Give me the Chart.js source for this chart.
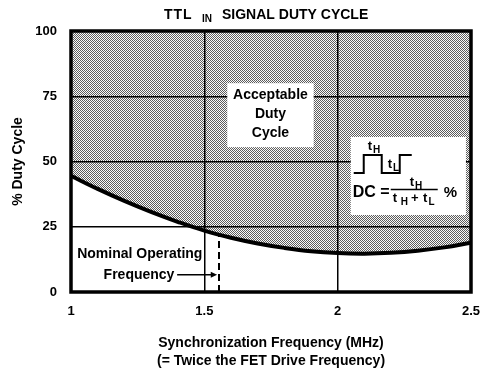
<!DOCTYPE html>
<html>
<head>
<meta charset="utf-8">
<script src="https://cdn.jsdelivr.net/npm/chart.js@4.4.1/dist/chart.umd.min.js"></script>
<style>
  html, body { margin: 0; padding: 0; background: #fff; }
</style>
</head>
<body>
<canvas id="duty-cycle" width="488" height="370"></canvas>
<script>
// minimum acceptable duty cycle (%) vs. sync frequency (MHz)
const freqMHz = [1.0, 1.1, 1.2, 1.3, 1.4, 1.5, 1.6, 1.7, 1.8, 1.9, 2.0, 2.1, 2.2, 2.3, 2.4, 2.5];
const minDuty = [44.5, 39.5, 34.9, 30.7, 26.9, 23.5, 20.8, 18.6, 16.9, 15.6, 14.9, 14.7, 15.0, 15.8, 17.1, 18.9];

// nominal operating frequency marker
const nominalX = [1.555, 1.555];
const nominalY = [0, 32];

const xTicks = [1, 1.5, 2, 2.5];
const yTicks = [0, 25, 50, 75, 100];

const FONT = '"Liberation Sans", Arial, sans-serif';

function stipple() {
  const c = document.createElement('canvas');
  c.width = 2;
  c.height = 2;
  const g = c.getContext('2d');
  g.fillStyle = '#fafafa';
  g.fillRect(0, 0, 2, 2);
  g.fillStyle = '#5c5c5c';
  g.fillRect(0, 0, 1, 1);
  g.fillRect(1, 1, 1, 1);
  return g.createPattern(c, 'repeat');
}

const ctx = document.getElementById('duty-cycle');

const decorations = {
  id: 'decorations',
  afterDraw(chart) {
    const c = chart.ctx;
    const area = chart.chartArea;
    const xs = chart.scales.x;
    const ys = chart.scales.y;
    const px = v => xs.getPixelForValue(v);
    const py = v => ys.getPixelForValue(v);

    c.save();
    c.fillStyle = '#000';
    c.strokeStyle = '#000';

    // heavy frame round the plot
    c.lineWidth = 3.5;
    c.strokeRect(area.left, area.top, area.right - area.left, area.bottom - area.top);

    // "Acceptable Duty Cycle" box
    c.fillStyle = '#fff';
    c.fillRect(px(1.586), py(80), px(1.91) - px(1.586), py(55.5) - py(80));
    c.fillStyle = '#000';
    c.font = 'bold 14px ' + FONT;
    c.textAlign = 'center';
    c.textBaseline = 'middle';
    const cx = px(1.748);
    c.fillText('Acceptable', cx, py(75.3));
    c.fillText('Duty', cx, py(68.0));
    c.fillText('Cycle', cx, py(60.8));

    // duty cycle formula box
    const bx = px(2.049), by = py(59.4);
    c.fillStyle = '#fff';
    c.fillRect(bx, by, px(2.481) - bx, py(29.5) - by);
    c.fillStyle = '#000';

    // pulse waveform
    c.lineWidth = 2;
    c.beginPath();
    c.moveTo(bx + 3, by + 36);
    c.lineTo(bx + 13, by + 36);
    c.lineTo(bx + 13, by + 18);
    c.lineTo(bx + 31, by + 18);
    c.lineTo(bx + 31, by + 36);
    c.lineTo(bx + 49, by + 36);
    c.lineTo(bx + 49, by + 18);
    c.lineTo(bx + 61, by + 18);
    c.stroke();

    function sub(main, s, x, y, big, small) {
      c.textAlign = 'left';
      c.textBaseline = 'alphabetic';
      c.font = 'bold ' + big + 'px ' + FONT;
      c.fillText(main, x, y);
      const w = c.measureText(main).width;
      c.font = 'bold ' + small + 'px ' + FONT;
      c.fillText(s, x + w + 1, y + 3);
      return w + 1 + c.measureText(s).width;
    }

    sub('t', 'H', bx + 17, by + 13, 13, 10);
    sub('t', 'L', bx + 37, by + 31, 13, 10);

    c.font = 'bold 16px ' + FONT;
    c.textAlign = 'left';
    c.textBaseline = 'alphabetic';
    c.fillText('DC =', bx + 2, by + 60);
    sub('t', 'H', bx + 59, by + 49, 13, 10);
    c.lineWidth = 1.5;
    c.beginPath();
    c.moveTo(bx + 40, by + 52.5);
    c.lineTo(bx + 87, by + 52.5);
    c.stroke();
    let w = sub('t', ' H', bx + 42, by + 65, 13, 10);
    c.font = 'bold 13px ' + FONT;
    c.fillText('+', bx + 42 + w + 3, by + 65);
    sub('t', 'L', bx + 42 + w + 15, by + 65, 13, 10);
    c.font = 'bold 15px ' + FONT;
    c.fillText('%', bx + 93, by + 60);

    // nominal operating frequency label and arrow
    c.font = 'bold 14px ' + FONT;
    c.textAlign = 'center';
    c.textBaseline = 'middle';
    c.fillText('Nominal Operating', px(1.258), py(14.6));
    c.fillText('Frequency', px(1.255), py(6.6));
    const ay = py(6.6);
    c.lineWidth = 1.5;
    c.beginPath();
    c.moveTo(px(1.398), ay);
    c.lineTo(px(1.53), ay);
    c.stroke();
    c.beginPath();
    c.moveTo(px(1.548), ay);
    c.lineTo(px(1.524), ay - 3);
    c.lineTo(px(1.524), ay + 3);
    c.closePath();
    c.fill();

    // chart title with subscript
    c.textAlign = 'left';
    c.textBaseline = 'alphabetic';
    c.font = 'bold 14px ' + FONT;
    c.letterSpacing = '1px';
    c.fillText('TTL', 164, 19);
    c.letterSpacing = '0px';
    c.font = 'bold 10px ' + FONT;
    c.fillText('IN', 202, 22);
    c.font = 'bold 14px ' + FONT;
    c.fillText('SIGNAL DUTY CYCLE', 222, 19);

    // axis titles
    c.textAlign = 'center';
    c.textBaseline = 'middle';
    c.font = 'bold 14px ' + FONT;
    const midX = (area.left + area.right) / 2;
    c.fillText('Synchronization Frequency (MHz)', midX, 343);
    c.fillText('(= Twice the FET Drive Frequency)', midX, 361);

    c.translate(18, (area.top + area.bottom) / 2);
    c.rotate(-Math.PI / 2);
    c.fillText('% Duty Cycle', 0, 0);
    c.restore();
  }
};

const tickFont = { family: FONT, size: 13, weight: 'bold' };
const gridStyle = { color: '#000', lineWidth: 1.5, drawTicks: false, z: 1 };

new Chart(ctx, {
  type: 'line',
  data: {
    datasets: [{
      label: 'Minimum duty cycle',
      data: freqMHz.map((f, i) => ({ x: f, y: minDuty[i] })),
      borderColor: '#000',
      borderWidth: 4,
      backgroundColor: stipple(),
      fill: 'end',
      tension: 0.4,
      pointRadius: 0
    }, {
      label: 'Nominal frequency',
      data: nominalX.map((f, i) => ({ x: f, y: nominalY[i] })),
      borderColor: '#000',
      borderWidth: 2,
      borderDash: [7, 4],
      fill: false,
      pointRadius: 0
    }]
  },
  plugins: [decorations],
  options: {
    responsive: false,
    animation: false,
    layout: {
      padding: { top: 31, right: 17, left: 0, bottom: 0 }
    },
    plugins: {
      legend: { display: false },
      tooltip: { enabled: false }
    },
    scales: {
      x: {
        type: 'linear',
        min: 1,
        max: 2.5,
        afterBuildTicks: s => { s.ticks = xTicks.map(v => ({ value: v })); },
        afterFit: s => {
          s.height = 78;
          s.paddingLeft = 0;
          s.paddingRight = 0;
        },
        grid: gridStyle,
        border: { display: false },
        ticks: {
          color: '#000',
          font: tickFont,
          padding: 12,
          maxRotation: 0,
          callback: v => String(v)
        }
      },
      y: {
        min: 0,
        max: 100,
        afterBuildTicks: s => { s.ticks = yTicks.map(v => ({ value: v })); },
        afterFit: s => {
          s.width = 71;
          s.paddingTop = 0;
          s.paddingBottom = 0;
        },
        grid: gridStyle,
        border: { display: false },
        ticks: {
          color: '#000',
          font: tickFont,
          padding: 14
        }
      }
    }
  }
});
</script>
</body>
</html>
